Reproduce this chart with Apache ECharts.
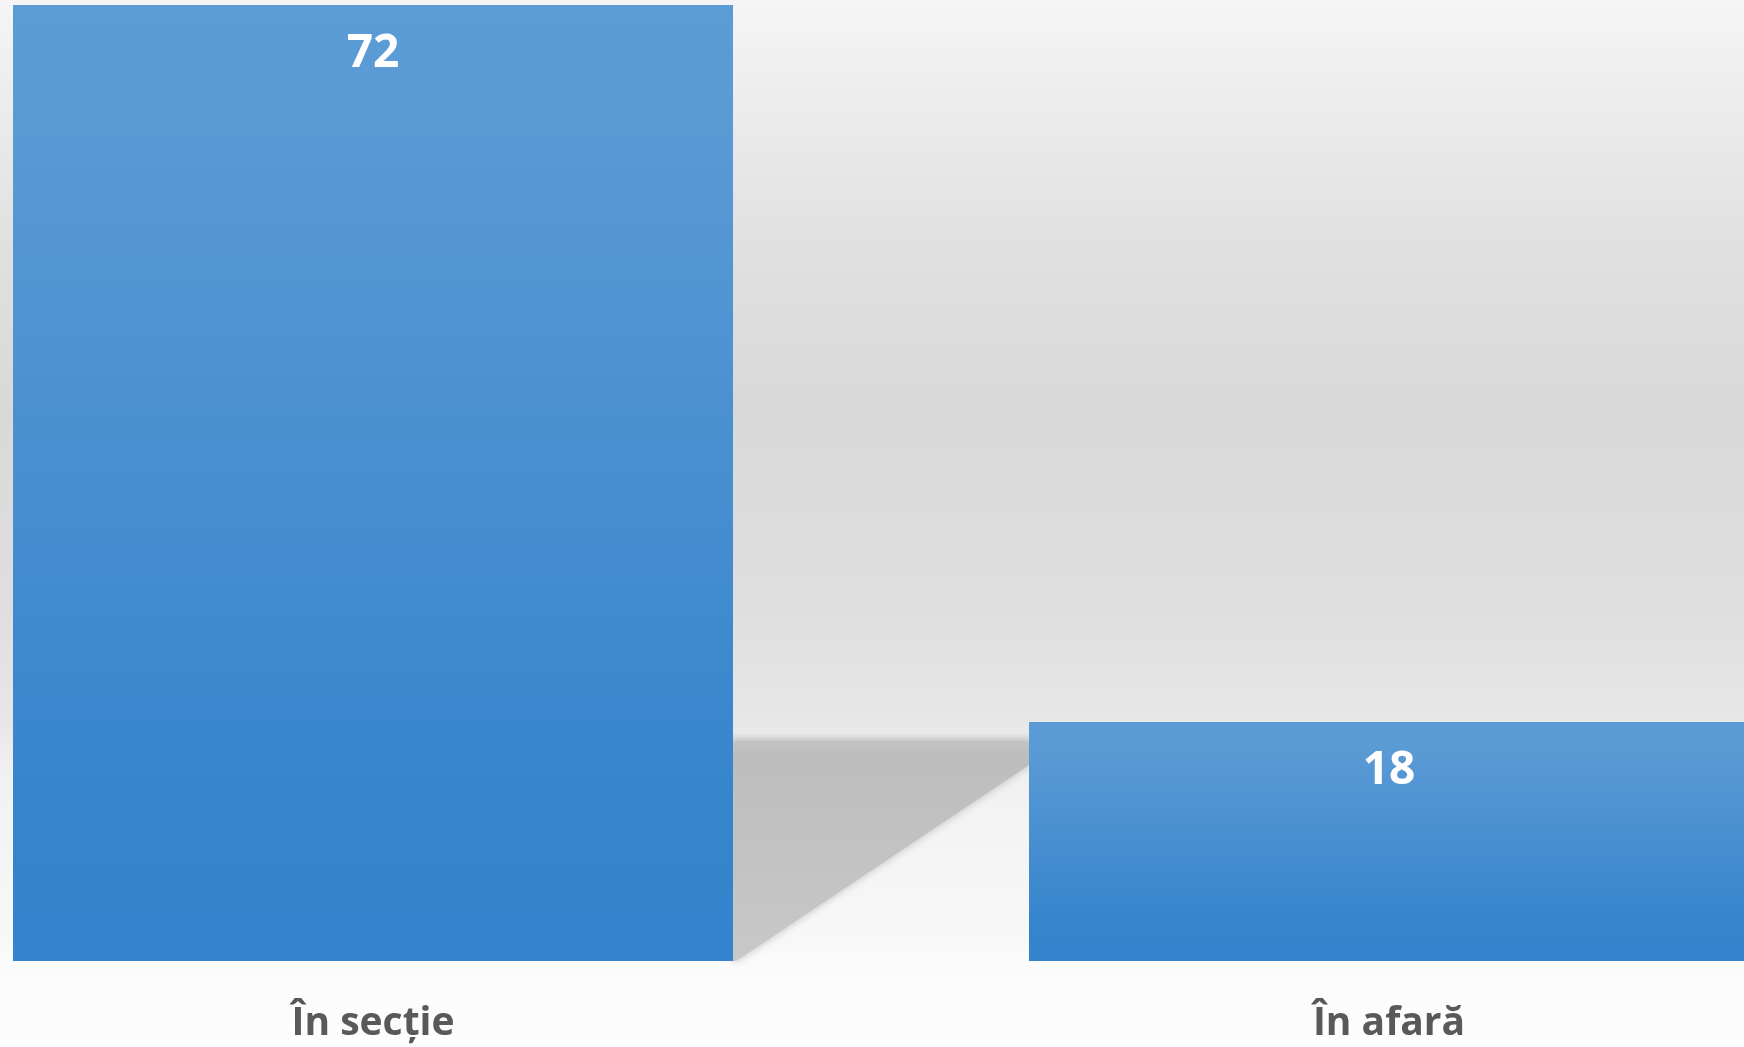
<!DOCTYPE html>
<html>
<head>
<meta charset="utf-8">
<script src="https://cdn.jsdelivr.net/npm/echarts@6/dist/echarts.min.js"></script>
<style>
html,body{margin:0;padding:0;background:#fff;}
#chart{width:1744px;height:1047px;}
</style>
</head>
<body>
<div id="chart"></div>
<script>
const categories = ['În secție', 'În afară'];
const values = [72, 18];
const yMax = 72;

const BAR_WIDTH = 720;
const FONT = '"Open Sans", "Noto Sans", sans-serif';

const chart = echarts.init(document.getElementById('chart'), null, {renderer: 'canvas'});

function shadowItem(params, api) {
  if (params.dataIndex !== 0) return null;
  const c0 = api.coord([0, 0]);
  const c1 = api.coord([1, 0]);
  const topPt = api.coord([0, yMax]);
  const bottom = c0[1];
  const H = bottom - topPt[1];
  const left = c0[0] + BAR_WIDTH / 2;
  const right = c1[0] - BAR_WIDTH / 2;
  const floorY = bottom - 0.228 * H;
  const diagY = bottom - 0.205 * H;
  return {
    type: 'group',
    children: [
      {
        type: 'rect',
        shape: {x: left, y: floorY - 10, width: right - left, height: 10},
        style: {
          fill: new echarts.graphic.LinearGradient(0, 0, 0, 1, [
            {offset: 0, color: 'rgba(200,200,200,0)'},
            {offset: 1, color: 'rgba(200,200,200,0.9)'}
          ])
        },
        silent: true
      },
      {
        type: 'polygon',
        shape: {points: [[left, floorY], [right, floorY], [right, diagY], [left + 3, bottom], [left, bottom]]},
        style: {
          fill: new echarts.graphic.LinearGradient(0, 0, 0, 1, [
            {offset: 0, color: '#c4c4c4'},
            {offset: 0.05, color: '#bdbdbd'},
            {offset: 1, color: '#c8c8c8'}
          ]),
          shadowBlur: 8,
          shadowColor: 'rgba(150,150,150,0.6)'
        },
        silent: true
      }
    ]
  };
}

const option = {
  animation: false,
  backgroundColor: {
    type: 'linear', x: 0, y: 0, x2: 0, y2: 1,
    colorStops: [
      {offset: 0, color: '#f5f5f5'},
      {offset: 0.1, color: '#ececec'},
      {offset: 0.24, color: '#e0e0e0'},
      {offset: 0.39, color: '#d9d9d9'},
      {offset: 0.57, color: '#dedede'},
      {offset: 0.69, color: '#e7e7e7'},
      {offset: 0.70, color: '#e9e9e9'},
      {offset: 0.73, color: '#f0f0f0'},
      {offset: 0.78, color: '#f3f3f3'},
      {offset: 0.9, color: '#f8f8f8'},
      {offset: 0.92, color: '#fbfbfb'},
      {offset: 1, color: '#fdfdfd'}
    ]
  },
  grid: {left: 373, right: 355, top: 5, bottom: 86, containLabel: false},
  xAxis: {
    type: 'category',
    data: categories,
    boundaryGap: false,
    axisLine: {show: false},
    axisTick: {show: false},
    splitLine: {show: false},
    axisLabel: {
      show: true,
      interval: 0,
      margin: 43,
      fontFamily: FONT,
      fontWeight: 'bold',
      fontSize: 39,
      color: '#595959'
    }
  },
  yAxis: {
    type: 'value',
    min: 0,
    max: yMax,
    show: false,
    splitLine: {show: false}
  },
  series: [
    {
      type: 'custom',
      renderItem: shadowItem,
      data: [[0, 0]],
      z: 1,
      clip: false,
      silent: true
    },
    {
      type: 'bar',
      data: values,
      barWidth: BAR_WIDTH,
      clip: false,
      z: 3,
      itemStyle: {
        color: new echarts.graphic.LinearGradient(0, 0, 0, 1, [
          {offset: 0, color: '#5c9cd6'},
          {offset: 0.12, color: '#5a9ad5'},
          {offset: 0.85, color: '#3584cc'},
          {offset: 1, color: '#3483cc'}
        ])
      },
      label: {
        show: true,
        position: 'insideTop',
        distance: 26,
        fontFamily: FONT,
        fontWeight: 'bold',
        fontSize: 46,
        color: '#ffffff'
      }
    }
  ]
};

chart.setOption(option);
</script>
</body>
</html>
